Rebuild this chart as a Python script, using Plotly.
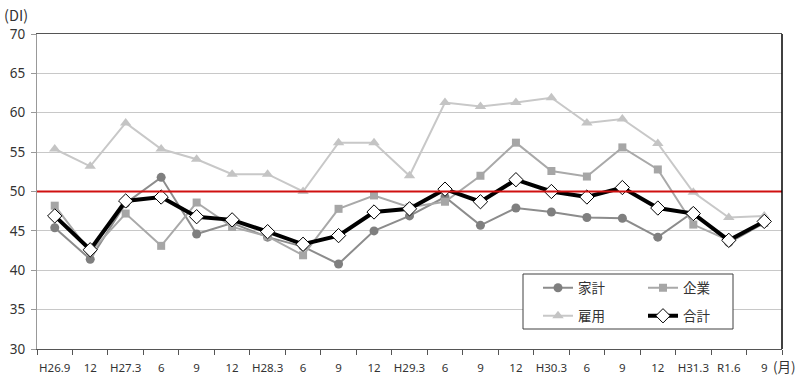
import plotly.graph_objects as go

categories = ["H26.9", "12", "H27.3", "6", "9", "12", "H28.3", "6", "9", "12",
              "H29.3", "6", "9", "12", "H30.3", "6", "9", "12", "H31.3", "R1.6", "9"]
kakei = [45.4, 41.4, 48.5, 51.8, 44.6, 46.0, 44.2, 43.0, 40.8, 45.0,
         46.9, 49.3, 45.7, 47.9, 47.4, 46.7, 46.6, 44.2, 47.4, 43.5, 46.0]
kigyo = [48.2, 42.3, 47.2, 43.1, 48.6, 45.5, 44.3, 41.9, 47.8, 49.5,
         48.0, 48.7, 52.0, 56.2, 52.6, 51.9, 55.6, 52.8, 45.8, 43.8, 46.0]
koyo = [55.4, 53.2, 58.7, 55.4, 54.1, 52.2, 52.2, 50.0, 56.2, 56.2,
        52.0, 61.3, 60.8, 61.3, 61.9, 58.7, 59.2, 56.1, 49.9, 46.7, 46.9]
gokei = [46.9, 42.6, 48.8, 49.3, 46.8, 46.4, 44.9, 43.3, 44.4, 47.4,
         47.8, 50.3, 48.7, 51.5, 50.0, 49.3, 50.5, 47.9, 47.2, 43.8, 46.2]
y_ticks = [30, 35, 40, 45, 50, 55, 60, 65, 70]
baseline = 50

x = list(range(len(categories)))
W, H = 800, 387
L, R, T, B = 37, 18, 34, 38
pw, ph = W - L - R, H - T - B

def px_to_paper(px, py):
    return (px - L) / pw, (H - B - py) / ph

fig = go.Figure()
fig.add_trace(go.Scatter(x=x, y=kakei, name="家計", mode="lines+markers",
                         line=dict(color="#8c8c8c", width=2),
                         marker=dict(symbol="circle", size=9, color="#7f7f7f"),
                         legend="legend"))
fig.add_trace(go.Scatter(x=x, y=kigyo, name="企業", mode="lines+markers",
                         line=dict(color="#a9a9a9", width=2),
                         marker=dict(symbol="square", size=8, color="#a6a6a6"),
                         legend="legend2"))
fig.add_trace(go.Scatter(x=x, y=koyo, name="雇用", mode="lines+markers",
                         line=dict(color="#c8c8c8", width=2),
                         marker=dict(symbol="triangle-up", size=10, color="#c4c4c4"),
                         legend="legend3"))
fig.add_trace(go.Scatter(x=x, y=gokei, name="合計", mode="lines+markers",
                         line=dict(color="#000000", width=4),
                         marker=dict(symbol="diamond", size=11, color="#ffffff",
                                     line=dict(color="#000000", width=1)),
                         legend="legend4"))

fig.add_shape(type="line", xref="paper", yref="y", x0=0, x1=1, y0=baseline, y1=baseline,
              line=dict(color="#d01010", width=2), layer="above")

# legend border box
bx0, by1 = px_to_paper(523, 274)
bx1, by0 = px_to_paper(733, 329)
fig.add_shape(type="rect", xref="paper", yref="paper", x0=bx0, x1=bx1, y0=by0, y1=by1,
              line=dict(color="#404040", width=1), fillcolor="white", layer="above")
# right border
fig.add_shape(type="line", xref="paper", yref="paper", x0=1, x1=1, y0=0, y1=1,
              line=dict(color="#000000", width=1.5), layer="above")

lfont = dict(family="Noto Sans CJK JP", size=13.5, color="#333333")
def leg(px, py):
    lx, ly = px_to_paper(px, py)
    return dict(xref="paper", yref="paper", x=lx, y=ly,
                xanchor="left", yanchor="middle", bgcolor="rgba(0,0,0,0)",
                borderwidth=0, font=lfont, orientation="h", itemclick=False)

fig.update_layout(
    width=W, height=H,
    margin=dict(l=L, r=R, t=T, b=B, autoexpand=False),
    paper_bgcolor="white", plot_bgcolor="white",
    showlegend=True,
    legend=leg(538, 288), legend2=leg(643, 288),
    legend3=leg(538, 316), legend4=leg(643, 316),
    xaxis=dict(range=[-0.5, len(categories) - 0.5], tickmode="array", tickvals=x,
               ticktext=categories, ticks="", showgrid=False, zeroline=False,
               showline=True, linecolor="#555555", linewidth=1, mirror=True,
               ticklabelstandoff=8,
               tickfont=dict(family="Noto Sans", size=11.5, color="#333333"),
               minor=dict(tick0=-0.5, dtick=1, ticks="outside", ticklen=5,
                          tickcolor="#555555", showgrid=False)),
    yaxis=dict(range=[30, 70], tickmode="array", tickvals=y_ticks, ticks="outside",
               ticklen=5, tickcolor="#999999", showgrid=True, gridcolor="#c8c8c8",
               gridwidth=1, zeroline=False, showline=True, linecolor="#999999",
               ticklabelstandoff=3,
               tickfont=dict(family="Noto Sans", size=13.5, color="#333333")),
    annotations=[
        dict(text="(DI)", xref="paper", yref="paper", x=px_to_paper(2, 0)[0],
             y=px_to_paper(0, 14)[1], xanchor="left", yanchor="middle", showarrow=False,
             font=dict(family="Noto Sans CJK JP", size=14.5, color="#333333")),
        dict(text="(月)", xref="paper", yref="paper", x=px_to_paper(771, 0)[0],
             y=px_to_paper(0, 366)[1], xanchor="left", yanchor="middle", showarrow=False,
             font=dict(family="Noto Sans CJK JP", size=13.5, color="#333333")),
    ],
)

fig.write_html("out.html", config={"displayModeBar": False},
               post_script="document.body.style.margin='0';document.body.style.overflow='hidden';")
